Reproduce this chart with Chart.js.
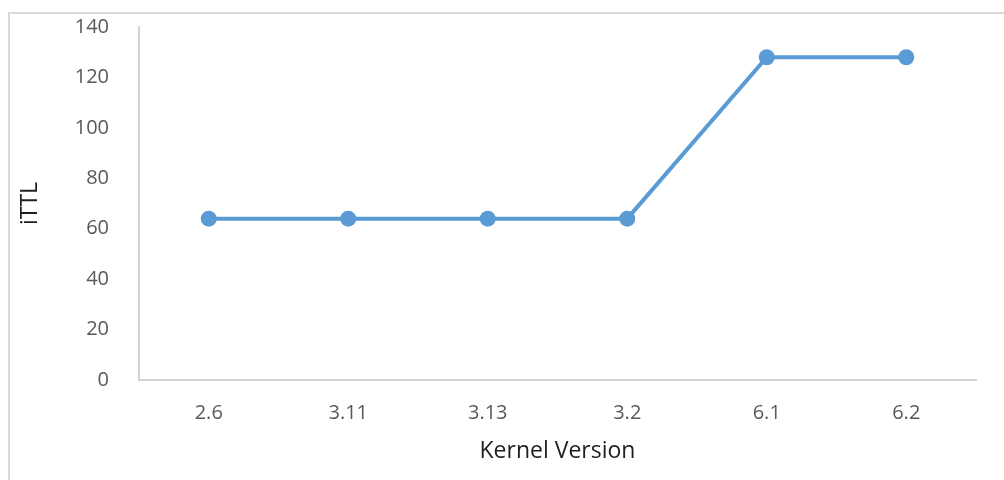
<!DOCTYPE html>
<html>
<head>
<meta charset="utf-8">
<script src="https://cdn.jsdelivr.net/npm/chart.js@4"></script>
<style>
  html, body { margin: 0; padding: 0; background: #fff; overflow: hidden; }
  #wrap { position: relative; width: 1004px; height: 480px; overflow: hidden; }
  #frame { position: absolute; left: 8px; top: 12px; width: 1100px; height: 600px;
           border: 2px solid #d9d9d9; box-sizing: border-box; }
  #c { position: absolute; left: 0; top: 0; }
</style>
</head>
<body>
<div id="wrap">
  <div id="frame"></div>
  <canvas id="c" width="1004" height="480"></canvas>
</div>
<script>
const kernelVersions = ['2.6', '3.11', '3.13', '3.2', '6.1', '6.2'];
const ittlValues = [64, 64, 64, 64, 128, 128];
const yMin = 0, yMax = 140, yStep = 20;

const lineColor = '#5b9bd5';
const axisColor = '#d4d4d4';
const tickColor = '#595959';
const titleColor = '#1f1f1f';
const fontFamily = '"Open Sans", "Liberation Sans", sans-serif';

new Chart(document.getElementById('c'), {
  type: 'line',
  data: {
    labels: kernelVersions,
    datasets: [{
      data: ittlValues,
      borderColor: lineColor,
      backgroundColor: lineColor,
      borderWidth: 4,
      pointRadius: 8,
      pointHoverRadius: 8,
      pointBackgroundColor: lineColor,
      pointBorderWidth: 0,
      tension: 0,
      fill: false
    }]
  },
  options: {
    responsive: false,
    animation: false,
    events: [],
    layout: { padding: { top: 27, right: 28, left: 0, bottom: 0 } },
    plugins: { legend: { display: false }, tooltip: { enabled: false } },
    scales: {
      x: {
        type: 'category',
        offset: true,
        grid: { display: false },
        border: { display: true, color: axisColor, width: 2 },
        ticks: { color: tickColor, padding: 13, font: { family: fontFamily, size: 20 } },
        title: {
          display: true, text: 'Kernel Version', color: titleColor,
          font: { family: fontFamily, size: 23 }, padding: { top: 0, bottom: 15 }
        },
        afterFit(scale) { scale.height = 100; scale.paddingLeft = 0; scale.paddingRight = 0; }
      },
      y: {
        min: yMin, max: yMax,
        grid: { display: false },
        border: { display: true, color: axisColor, width: 2 },
        ticks: { stepSize: yStep, color: tickColor, padding: 22, font: { family: fontFamily, size: 20 } },
        title: {
          display: true, text: 'iTTL', color: titleColor,
          font: { family: fontFamily, size: 23 }, padding: { top: 17, bottom: 0 }
        },
        afterFit(scale) { scale.width = 139; scale.paddingTop = 0; scale.paddingBottom = 0; }
      }
    }
  }
});
</script>
</body>
</html>
